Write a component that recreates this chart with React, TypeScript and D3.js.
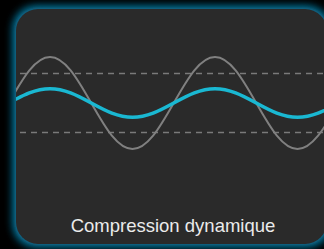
import React from 'react';
import * as d3 from 'd3';

// samples every 1/8 period, starting a quarter period before the first peak
const phases = [-0.25, -0.125, 0, 0.125, 0.25, 0.375, 0.5, 0.625, 0.75, 0.875, 1, 1.125, 1.25, 1.375, 1.5, 1.625, 1.75];
const inputSignal = [0, 0.71, 1, 0.71, 0, -0.71, -1, -0.71, 0, 0.71, 1, 0.71, 0, -0.71, -1, -0.71, 0];
const compressedSignal = [0, 0.22, 0.31, 0.22, 0, -0.22, -0.31, -0.22, 0, 0.22, 0.31, 0.22, 0, -0.22, -0.31, -0.22, 0];
const thresholds = [0.64, -0.64];
const label = 'Compression dynamique';

const W = 324;
const H = 249;
const panel = { x: 16, y: 9, w: 311, h: 235, r: 22 };

export default function App() {
  // one period = 165px, first peak at x=50
  const x = d3.scaleLinear().domain([0, 1]).range([50, 215]);
  const y = d3.scaleLinear().domain([-1, 1]).range([149, 57]);

  const line = d3
    .line<number>()
    .x((_, i) => x(phases[i]))
    .y((d) => y(d))
    .curve(d3.curveNatural);

  return (
    <svg
      width={W}
      height={H}
      style={{ position: 'absolute', left: 0, top: 0, display: 'block' }}
    >
      <defs>
        <filter id="glow" x="-20%" y="-20%" width="140%" height="140%">
          <feGaussianBlur stdDeviation="5" />
        </filter>
        <clipPath id="panelClip">
          <rect x={panel.x} y={panel.y} width={panel.w} height={panel.h} rx={panel.r} />
        </clipPath>
      </defs>
      <rect width={W} height={H} fill="#000" />
      {/* glow round the panel, two layers so it stays bright near the edge */}
      <rect
        x={panel.x - 2}
        y={panel.y - 2}
        width={panel.w + 4}
        height={panel.h + 4}
        rx={panel.r}
        fill="#0a78a0"
        filter="url(#glow)"
      />
      <rect
        x={panel.x - 1}
        y={panel.y - 1}
        width={panel.w + 2}
        height={panel.h + 2}
        rx={panel.r}
        fill="#0c86b0"
        opacity={0.6}
        filter="url(#glow)"
      />
      <rect x={panel.x} y={panel.y} width={panel.w} height={panel.h} rx={panel.r} fill="#2a2a2a" />
      <g clipPath="url(#panelClip)">
        {thresholds.map((t) => (
          <line
            key={t}
            x1={panel.x + 4}
            x2={W}
            y1={y(t)}
            y2={y(t)}
            stroke="#7a7a7a"
            strokeWidth={1.5}
            strokeDasharray="6,5"
          />
        ))}
        <path d={line(inputSignal) || ''} fill="none" stroke="#808080" strokeWidth={2} />
        <path d={line(compressedSignal) || ''} fill="none" stroke="#1ab8d2" strokeWidth={3.5} />
      </g>
      <text
        x={173}
        y={232}
        textAnchor="middle"
        fill="#ebebeb"
        fontFamily="'Liberation Sans', Arial, sans-serif"
        fontSize={18.5}
      >
        {label}
      </text>
    </svg>
  );
}
